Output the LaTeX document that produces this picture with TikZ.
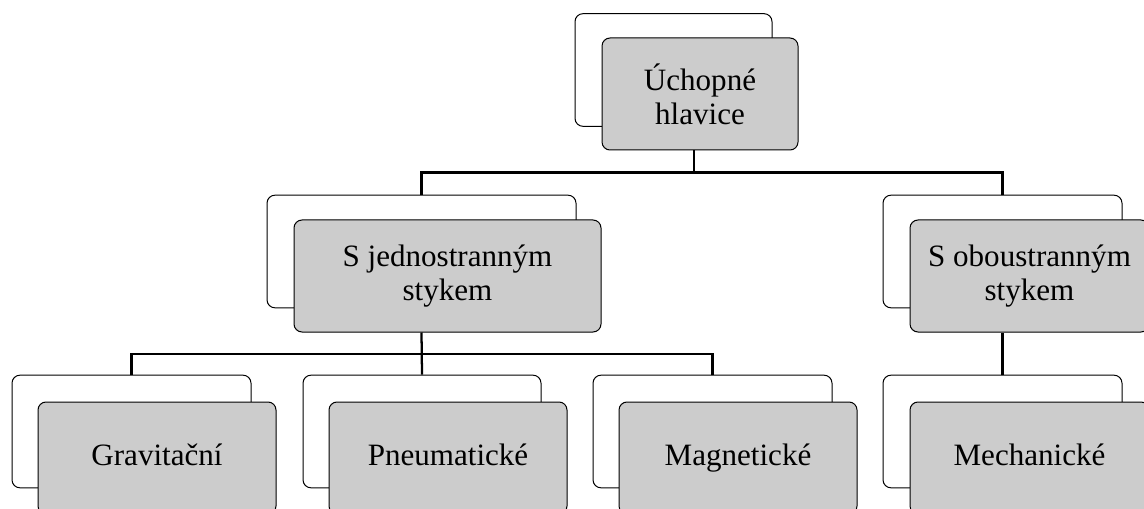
\documentclass[tikz,border=0pt]{standalone}
\usepackage{fontspec}
\setmainfont{Liberation Serif}

\tikzset{every picture/.style={line width=0.75pt}}
\tikzset{
  backbox/.style={draw={rgb, 255:red, 0; green, 0; blue, 0 }, fill={rgb, 255:red, 255; green, 255; blue, 255 }, rounded corners=6pt, line width=0.75, minimum height=84.5pt, inner sep=0pt},
  frontbox/.style={draw={rgb, 255:red, 0; green, 0; blue, 0 }, fill={rgb, 255:red, 204; green, 204; blue, 204 }, rounded corners=6pt, line width=0.75, minimum height=84pt, inner sep=0pt, align=center, font=\fontsize{23.3}{25.5}\selectfont},
  leafbox/.style={frontbox, text height=16pt, text depth=5pt},
  conn/.style={line width=1.7}
}

\begin{document}
\begin{tikzpicture}[x=0.75pt,y=0.75pt,yscale=-1,xscale=1]
\useasboundingbox (0,0) rectangle (1144,509);

%Shapes: top
\node [backbox, minimum width=147.75pt] (topB) at (673.5,70) {};
\node [frontbox, minimum width=147pt] (top) at (700,94) {Úchopné\\hlavice};
%Shapes: second row
\node [backbox, minimum width=231.75pt] (jedB) at (421.5,251.5) {};
\node [frontbox, minimum width=230.25pt] (jed) at (447.5,276) {S jednostranným\\stykem};
\node [backbox, minimum width=179.25pt] (oboB) at (1002.5,251.5) {};
\node [frontbox, minimum width=179.25pt] (obo) at (1029.5,276) {S oboustranným\\stykem};
%Shapes: third row
\node [backbox, minimum width=179.25pt] (gravB) at (131.5,431.5) {};
\node [leafbox, minimum width=178.5pt] (grav) at (157,458) {Gravitační};
\node [backbox, minimum width=178.5pt] (pneB) at (422,431.5) {};
\node [leafbox, minimum width=178.5pt] (pne) at (448,458) {Pneumatické};
\node [backbox, minimum width=179.25pt] (magB) at (712.5,431.5) {};
\node [leafbox, minimum width=178.5pt] (mag) at (738,458) {Magnetické};
\node [backbox, minimum width=179.25pt] (mechB) at (1002.5,431.5) {};
\node [leafbox, minimum width=179.25pt] (mech) at (1029.5,458) {Mechanické};

\coordinate (bus1) at (694,172.5);
\coordinate (bus2) at (422,354);

%Straight Lines
\draw [conn] (top.south -| bus1) -- (bus1);
\draw [conn] (jedB.north) |- (bus1) -| (oboB.north);
%Straight Lines
\draw [conn] (jed.south -| jedB.north) -- (pneB.north);
\draw [conn] (gravB.north) |- (bus2) -| (magB.north);
%Straight Lines
\draw [conn] (obo.south -| oboB.north) -- (mechB.north);

\end{tikzpicture}
\end{document}
